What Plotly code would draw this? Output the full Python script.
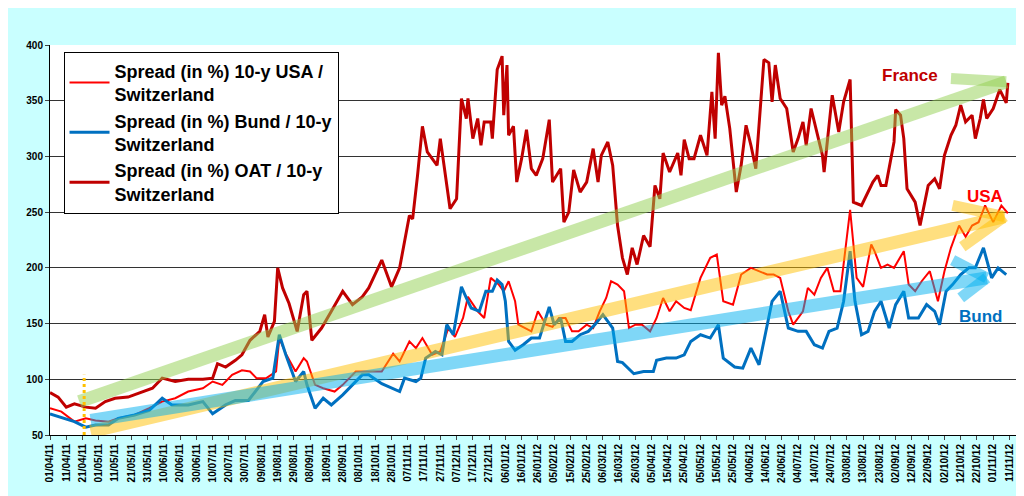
import pandas as pd
import plotly.graph_objects as go

START = pd.Timestamp("2011-04-01")

# France (OAT) spread, day offset from 01/04/11 -> basis points
oat_days = [0, 5, 10, 15, 22, 28, 34, 40, 48, 57, 63, 69, 77, 85, 94, 100, 103, 108, 114, 118,
            123, 129, 132, 134, 138, 140, 143, 147, 152, 156, 158, 161, 167, 173, 180, 186, 192, 196, 204, 210,
            215, 221, 223, 226, 229, 232, 238, 240, 246, 250, 253, 256, 257, 260, 263, 265, 267, 271, 272, 275,
            278, 279, 281, 282, 285, 287, 290, 293, 296, 299, 303, 307, 309, 314, 316, 319, 322, 326, 330, 334,
            337, 339, 343, 346, 349, 352, 355, 358, 361, 365, 369, 372, 375, 377, 381, 386, 388, 390, 393, 396,
            400, 404, 407, 409, 411, 413, 415, 418, 422, 425, 428, 431, 434, 439, 442, 444, 446, 449, 453, 457,
            460, 463, 465, 468, 471, 475, 476, 481, 485, 488, 492, 494, 499, 503, 506, 509, 511, 514, 519, 520,
            523, 525, 527, 532, 535, 540, 544, 547, 550, 554, 557, 560, 563, 567, 569, 572, 574, 576, 580, 584,
            588, 589]
oat_vals = [88, 84, 75, 78, 75, 74, 80, 83, 84, 89, 92, 101, 98, 100, 100, 101, 114, 111, 117, 122,
            135, 143, 158, 138, 152, 200, 182, 168, 143, 176, 179, 135, 146, 161, 179, 167, 174, 182, 207, 183,
            200, 247, 244, 283, 327, 304, 292, 316, 253, 262, 352, 334, 352, 316, 334, 310, 331, 331, 316, 378,
            390, 337, 382, 319, 327, 277, 298, 324, 289, 283, 298, 333, 277, 289, 241, 250, 288, 268, 277, 307,
            277, 301, 313, 292, 238, 209, 194, 218, 203, 229, 219, 274, 262, 303, 286, 303, 283, 315, 298, 298,
            319, 301, 358, 316, 393, 346, 354, 325, 268, 292, 328, 310, 289, 387, 384, 349, 382, 352, 343, 304,
            316, 331, 310, 343, 325, 301, 286, 355, 322, 349, 369, 259, 256, 268, 277, 283, 274, 274, 313, 342,
            337, 316, 271, 259, 238, 274, 280, 271, 301, 319, 328, 346, 331, 337, 316, 334, 351, 334, 343, 360,
            348, 366]

# USA spread
usa_days = [0, 7, 15, 22, 28, 36, 42, 52, 61, 69, 77, 85, 94, 100, 106, 112, 118, 123, 127, 133,
            139, 141, 145, 151, 156, 158, 163, 168, 175, 180, 188, 196, 204, 211, 215, 221, 225, 229, 235, 240,
            245, 249, 254, 257, 263, 267, 271, 276, 279, 282, 286, 288, 292, 296, 300, 305, 309, 313, 317, 321,
            325, 330, 334, 338, 342, 345, 349, 353, 356, 360, 364, 369, 373, 377, 381, 385, 390, 394, 400, 406,
            410, 414, 420, 425, 431, 436, 441, 445, 449, 454, 457, 463, 466, 470, 474, 478, 482, 486, 489, 492,
            496, 500, 505, 507, 511, 515, 519, 525, 528, 532, 536, 541, 546, 550, 554, 559, 563, 567, 571, 575,
            580, 585, 589]
usa_vals = [74, 71, 62, 65, 63, 62, 65, 68, 74, 80, 83, 89, 92, 98, 95, 104, 108, 107, 101, 101,
            107, 137, 123, 107, 119, 116, 95, 92, 89, 95, 107, 107, 107, 123, 116, 134, 128, 137, 122, 125,
            146, 138, 155, 174, 161, 155, 191, 185, 179, 188, 170, 149, 146, 143, 161, 149, 147, 155, 155, 143,
            143, 149, 146, 161, 173, 188, 185, 179, 146, 149, 149, 143, 155, 173, 161, 170, 164, 162, 191, 209,
            212, 170, 167, 194, 200, 197, 194, 194, 191, 161, 149, 161, 182, 176, 191, 200, 179, 179, 218, 252,
            191, 183, 221, 215, 200, 203, 200, 215, 185, 179, 188, 197, 170, 197, 218, 238, 228, 238, 241, 256,
            241, 256, 249]

# Bund spread
bund_days = [0, 7, 15, 22, 28, 36, 42, 52, 61, 69, 75, 85, 94, 100, 108, 114, 122, 131, 137, 141,
             145, 151, 156, 158, 163, 168, 173, 180, 186, 192, 196, 204, 215, 218, 225, 228, 231, 237, 241, 244,
             248, 253, 256, 259, 264, 268, 272, 275, 278, 280, 282, 286, 291, 296, 301, 307, 310, 314, 317, 321,
             326, 331, 335, 340, 346, 349, 352, 359, 365, 371, 373, 379, 385, 390, 394, 400, 406, 411, 414, 421,
             426, 431, 436, 440, 444, 449, 454, 460, 465, 470, 475, 479, 484, 488, 492, 495, 499, 503, 507, 511,
             516, 520, 525, 528, 534, 539, 544, 547, 551, 555, 560, 565, 569, 574, 579, 583, 588]
bund_vals = [69, 66, 62, 57, 59, 59, 65, 68, 72, 83, 77, 77, 80, 69, 77, 81, 81, 98, 101, 140,
             122, 98, 107, 95, 74, 83, 77, 86, 95, 104, 104, 96, 89, 101, 98, 101, 119, 125, 122, 149,
             140, 183, 173, 164, 161, 179, 179, 189, 185, 170, 134, 126, 131, 137, 137, 165, 149, 155, 134, 134,
             140, 143, 149, 158, 146, 116, 115, 105, 107, 107, 117, 119, 119, 122, 134, 140, 137, 149, 119, 111,
             110, 128, 113, 140, 170, 179, 146, 143, 143, 131, 128, 143, 146, 170, 215, 170, 140, 143, 161, 170,
             146, 167, 179, 155, 155, 167, 161, 149, 179, 185, 194, 200, 200, 218, 191, 200, 194]

assert len(oat_days) == len(oat_vals)
assert len(usa_days) == len(usa_vals)
assert len(bund_days) == len(bund_vals)

tick_dates = pd.date_range("2011-04-01", "2012-11-11", freq="10D")

# trend arrows: (start day, start value, end day, end value, arm points, colour)
arrows = [
    (18, 80, 588, 367, [(554, 370)], "rgba(146,208,80,0.5)"),
    (25, 53, 587, 246, [(555, 256), (561, 219)], "rgba(255,192,0,0.5)"),
    (25, 63, 576, 191, [(555, 207), (560, 173)], "rgba(0,176,240,0.5)"),
]


def to_date(d):
    return START + pd.Timedelta(days=d)


def dates(days):
    return [to_date(d) for d in days]


fig = go.Figure()
fig.add_trace(go.Scatter(x=dates(usa_days), y=usa_vals, mode="lines",
                         line=dict(color="#FF0000", width=2),
                         name="Spread (in %) 10-y USA /<br>Switzerland"))
fig.add_trace(go.Scatter(x=dates(bund_days), y=bund_vals, mode="lines",
                         line=dict(color="#0070C0", width=3),
                         name="Spread (in %) Bund / 10-y<br>Switzerland"))
fig.add_trace(go.Scatter(x=dates(oat_days), y=oat_vals, mode="lines",
                         line=dict(color="#C00000", width=3),
                         name="Spread (in %) OAT / 10-y<br>Switzerland"))

for d0, v0, d1, v1, arms, col in arrows:
    fig.add_shape(type="line", x0=to_date(d0), y0=v0, x1=to_date(d1), y1=v1,
                  line=dict(color=col, width=13), layer="above")
    for ad, av in arms:
        fig.add_shape(type="line", x0=to_date(ad), y0=av, x1=to_date(d1), y1=v1,
                      line=dict(color=col, width=11), layer="above")

fig.add_shape(type="line", x0=to_date(21), y0=50, x1=to_date(21), y1=104,
              line=dict(color="#FFC000", width=3, dash="dot"))

for txt, d, v, col in [("France", 529, 373, "#C00000"), ("USA", 575, 264, "#FF0000"),
                       ("Bund", 572, 156, "#0070C0")]:
    fig.add_annotation(x=to_date(d), y=v, text="<b>%s</b>" % txt, showarrow=False,
                       font=dict(size=17, color=col, family="Liberation Sans"))

fig.update_layout(
    width=1024, height=496,
    paper_bgcolor="#C9FFFF", plot_bgcolor="white",
    margin=dict(l=42, r=16, t=37, b=69),
    font=dict(family="Liberation Sans", color="black"),
    legend=dict(x=0.014, y=0.983, xanchor="left", yanchor="top",
                bgcolor="white", bordercolor="black", borderwidth=1,
                font=dict(size=18, family="Liberation Sans", weight="bold"),
                tracegroupgap=0, itemwidth=40),
)
fig.update_xaxes(type="date", range=[to_date(0), to_date(594)], automargin=False,
                 tickvals=tick_dates, ticktext=[t.strftime("%d/%m/%y") for t in tick_dates],
                 tickangle=-90, tickfont=dict(size=10, weight="bold"),
                 ticks="outside", ticklen=4, showgrid=False,
                 showline=True, linecolor="black", mirror=False)
fig.update_yaxes(range=[50, 400], dtick=50, automargin=False,
                 tickfont=dict(size=10, weight="bold"),
                 ticks="outside", ticklen=4, showgrid=True, gridcolor="#333333",
                 showline=True, linecolor="black", zeroline=False)

fig.write_html("out.html")
